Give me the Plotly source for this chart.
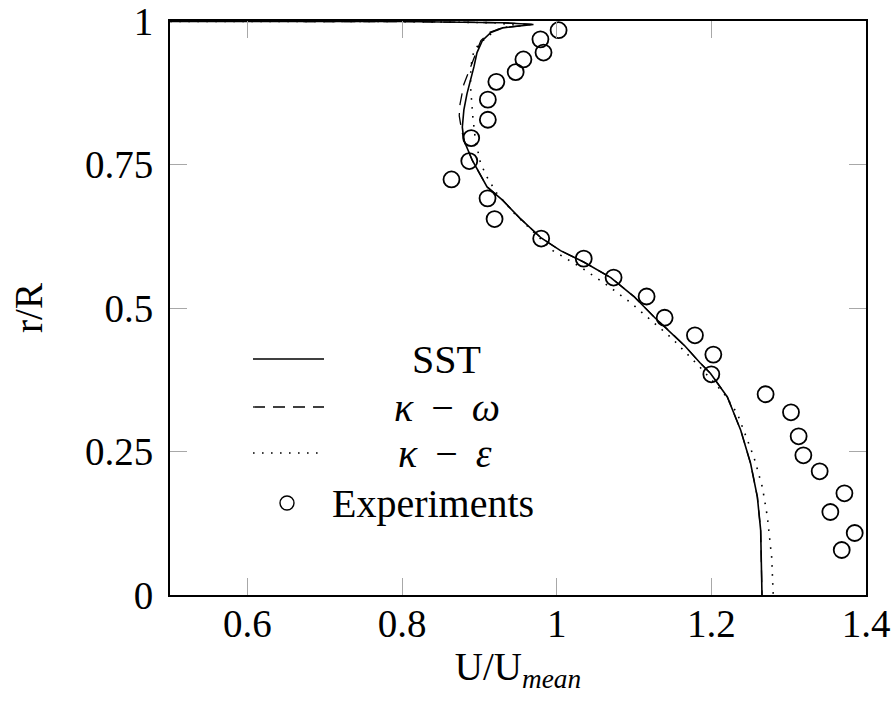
import plotly.graph_objects as go

# ---------------- data ----------------
sst_u = [0.0, 0.80, 0.93, 0.970, 0.930, 0.915, 0.904, 0.897, 0.893, 0.888, 0.884, 0.880,
         0.878, 0.880, 0.891, 0.910, 0.930, 0.952, 0.980, 1.005, 1.035, 1.070, 1.100,
         1.127, 1.145, 1.165, 1.185, 1.199, 1.2207, 1.238, 1.2508, 1.2595, 1.2638, 1.2651, 1.2655]
sst_r = [1.0, 0.999, 0.997, 0.994, 0.988, 0.980, 0.966, 0.945, 0.920, 0.895, 0.873, 0.845,
         0.815, 0.792, 0.757, 0.711, 0.688, 0.657, 0.622, 0.600, 0.580, 0.553, 0.520,
         0.483, 0.461, 0.435, 0.405, 0.386, 0.345, 0.287, 0.229, 0.171, 0.113, 0.055, 0.0]

kw_u = [0.0, 0.80, 0.93, 0.968, 0.930, 0.913, 0.902, 0.891, 0.880, 0.875, 0.874, 0.877,
        0.882, 0.891, 0.910, 0.930, 0.952, 0.980, 1.005, 1.035, 1.070, 1.100,
        1.127, 1.145, 1.165, 1.185, 1.199, 1.2207, 1.238, 1.2508, 1.2595, 1.2638, 1.2651, 1.2655]
kw_r = [1.0, 0.999, 0.997, 0.994, 0.988, 0.980, 0.966, 0.929, 0.890, 0.855, 0.835, 0.810,
        0.785, 0.757, 0.711, 0.688, 0.657, 0.622, 0.600, 0.580, 0.553, 0.520,
        0.483, 0.461, 0.435, 0.405, 0.386, 0.345, 0.287, 0.229, 0.171, 0.113, 0.055, 0.0]

ke_u = [0.0, 0.80, 0.92, 0.945, 0.921, 0.902, 0.893, 0.889, 0.8886, 0.8916, 0.895, 0.9016,
        0.910, 0.923, 0.945, 0.970, 0.995, 1.030, 1.062, 1.095, 1.125, 1.150, 1.165,
        1.186, 1.2163, 1.2336, 1.2551, 1.266, 1.2725, 1.278, 1.280]
ke_r = [1.0, 0.999, 0.997, 0.993, 0.984, 0.963, 0.949, 0.920, 0.885, 0.833, 0.792, 0.752,
        0.728, 0.699, 0.665, 0.632, 0.600, 0.572, 0.543, 0.510, 0.475, 0.446, 0.425,
        0.396, 0.351, 0.316, 0.240, 0.188, 0.136, 0.066, 0.0]

exp_u = [1.0025, 0.979, 0.983, 0.957, 0.947, 0.922, 0.911, 0.911, 0.8895, 0.887, 0.864,
         0.9106, 0.9197, 0.980, 1.035, 1.0736, 1.1163, 1.1396, 1.1788, 1.2026, 1.2000,
         1.2702, 1.3030, 1.3129, 1.3190, 1.3401, 1.3721, 1.3539, 1.3854, 1.3686]
exp_r = [0.984, 0.968, 0.945, 0.933, 0.911, 0.894, 0.863, 0.828, 0.796, 0.756, 0.724,
         0.691, 0.655, 0.621, 0.586, 0.553, 0.520, 0.483, 0.4524, 0.4188, 0.3845,
         0.3497, 0.3183, 0.2765, 0.2434, 0.2155, 0.1772, 0.1446, 0.1080, 0.0784]

x_ticks = [0.6, 0.8, 1.0, 1.2, 1.4]
x_tick_text = ["0.6", "0.8", "1", "1.2", "1.4"]
y_ticks = [0, 0.25, 0.5, 0.75, 1.0]
y_tick_text = ["0", "0.25", "0.5", "0.75", "1"]

legend_names = ["SST",
                "<i>κ</i> \u2009−\u2009 <i>ω</i>",
                "<i>κ</i> \u2009−\u2009 <i>ε</i>",
                "Experiments"]

# ---------------- figure ----------------
FONT = "'Liberation Serif', 'DejaVu Serif', 'Times New Roman', serif"
FS = 39
W, H = 896, 707
ML, MR, MT, MB = 170, 30, 21, 112
pw, ph = W - ML - MR, H - MT - MB

fig = go.Figure()
fig.add_trace(go.Scatter(x=sst_u, y=sst_r, mode="lines", name=legend_names[0],
                         line=dict(color="black", width=1.6)))
fig.add_trace(go.Scatter(x=kw_u, y=kw_r, mode="lines", name=legend_names[1],
                         line=dict(color="black", width=1.3, dash="12px,8px")))
fig.add_trace(go.Scatter(x=ke_u, y=ke_r, mode="lines", name=legend_names[2],
                         line=dict(color="black", width=1.6, dash="1.6px,7.4px")))
fig.add_trace(go.Scatter(x=exp_u, y=exp_r, mode="markers", name=legend_names[3],
                         marker=dict(symbol="circle-open", size=16, color="black",
                                     line=dict(width=1.8, color="black"))))

def px2paper(px, py):
    return (px - ML) / pw, (H - MB - py) / ph

shapes = []
annotations = []
# legend samples (manual, to mimic centered legend text)
rows_y = [359, 407, 453, 503]
text_cx = [446, 447, 445, 433]
dashes = ["solid", "12px,8px", "1.6px,7.4px"]
widths = [1.6, 1.3, 1.6]
for i in range(3):
    x0, y0 = px2paper(253, rows_y[i])
    x1, _ = px2paper(324, rows_y[i])
    shapes.append(dict(type="line", xref="paper", yref="paper", x0=x0, x1=x1, y0=y0, y1=y0,
                       line=dict(color="black", width=widths[i], dash=dashes[i])))
cx, cy = px2paper(287, rows_y[3])
rx, ry = 7 / pw, 7 / ph
shapes.append(dict(type="circle", xref="paper", yref="paper", x0=cx - rx, x1=cx + rx,
                   y0=cy - ry, y1=cy + ry, line=dict(color="black", width=1.4)))
for i in range(4):
    tx, ty = px2paper(text_cx[i], rows_y[i])
    annotations.append(dict(xref="paper", yref="paper", x=tx, y=ty, text=legend_names[i],
                            showarrow=False, xanchor="center", yanchor="middle",
                            font=dict(family=FONT, size=40, color="black")))

fig.update_layout(
    width=W, height=H,
    margin=dict(l=ML, r=MR, t=MT, b=MB),
    paper_bgcolor="white", plot_bgcolor="white",
    showlegend=False,
    shapes=shapes, annotations=annotations,
    font=dict(family=FONT, size=FS, color="black"),
)
axis_common = dict(
    showgrid=False, zeroline=False, showline=True, linecolor="black", linewidth=2,
    mirror="ticks", ticks="inside", ticklen=17, tickwidth=1.4, tickcolor="#a8a8a8",
    tickfont=dict(family=FONT, size=FS, color="black"), automargin=False,
    ticklabeloverflow="allow",
)
fig.update_xaxes(range=[0.5, 1.4], tickvals=x_ticks, ticktext=x_tick_text,
                 ticklabelstandoff=-7,
                 title=dict(text="U/U<sub><i>mean</i></sub>", standoff=3,
                            font=dict(family=FONT, size=FS, color="black")),
                 **axis_common)
fig.update_yaxes(range=[0, 1], tickvals=y_ticks, ticktext=y_tick_text,
                 ticklabelstandoff=7,
                 title=dict(text="r/R", standoff=30,
                            font=dict(family=FONT, size=FS, color="black")),
                 **axis_common)

fig.write_html("out.html")
